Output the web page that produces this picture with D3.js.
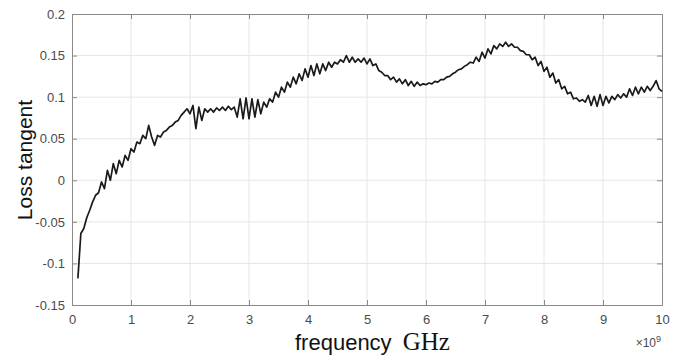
<!DOCTYPE html>
<html>
<head>
<meta charset="utf-8">
<script src="https://cdnjs.cloudflare.com/ajax/libs/d3/7.8.5/d3.min.js"></script>
<style>
  body { margin: 0; background: #fff; }
  .tick text { font-family: "Liberation Sans", Arial, sans-serif; font-size: 13px; fill: #4a4a4a; }
</style>
</head>
<body>
<div class="chart"></div>
<script>
var svgWidth = 680;
var svgHeight = 356;

var margin = { top: 14, right: 18, bottom: 51, left: 72 };

var width = svgWidth - margin.left - margin.right;
var height = svgHeight - margin.top - margin.bottom;

// frequency samples (GHz)
var freqGHz = [
  0.10,0.15,0.20,0.25,0.30,0.35,0.40,0.45,0.50,0.55,
  0.60,0.65,0.70,0.75,0.80,0.85,0.90,0.95,1.00,1.05,
  1.10,1.15,1.20,1.25,1.30,1.35,1.40,1.45,1.50,1.55,
  1.60,1.65,1.70,1.75,1.80,1.85,1.90,1.95,2.00,2.05,
  2.10,2.15,2.20,2.25,2.30,2.35,2.40,2.45,2.50,2.55,
  2.60,2.65,2.70,2.75,2.80,2.85,2.90,2.95,3.00,3.05,
  3.10,3.15,3.20,3.25,3.30,3.35,3.40,3.45,3.50,3.55,
  3.60,3.65,3.70,3.75,3.80,3.85,3.90,3.95,4.00,4.05,
  4.10,4.15,4.20,4.25,4.30,4.35,4.40,4.45,4.50,4.55,
  4.60,4.65,4.70,4.75,4.80,4.85,4.90,4.95,5.00,5.05,
  5.10,5.15,5.20,5.25,5.30,5.35,5.40,5.45,5.50,5.55,
  5.60,5.65,5.70,5.75,5.80,5.85,5.90,5.95,6.00,6.05,
  6.10,6.15,6.20,6.25,6.30,6.35,6.40,6.45,6.50,6.55,
  6.60,6.65,6.70,6.75,6.80,6.85,6.90,6.95,7.00,7.05,
  7.10,7.15,7.20,7.25,7.30,7.35,7.40,7.45,7.50,7.55,
  7.60,7.65,7.70,7.75,7.80,7.85,7.90,7.95,8.00,8.05,
  8.10,8.15,8.20,8.25,8.30,8.35,8.40,8.45,8.50,8.55,
  8.60,8.65,8.70,8.75,8.80,8.85,8.90,8.95,9.00,9.05,
  9.10,9.15,9.20,9.25,9.30,9.35,9.40,9.45,9.50,9.55,
  9.60,9.65,9.70,9.75,9.80,9.85,9.90,9.95,10.00
];

// loss tangent
var lossTangent = [
  -0.118,-0.064,-0.058,-0.045,-0.036,-0.026,-0.018,-0.015,-0.002,-0.010,
  0.012,0.000,0.020,0.008,0.024,0.016,0.030,0.024,0.038,0.034,
  0.046,0.044,0.054,0.050,0.066,0.052,0.042,0.054,0.052,0.058,
  0.060,0.064,0.066,0.070,0.072,0.078,0.082,0.086,0.080,0.090,
  0.062,0.088,0.072,0.086,0.082,0.086,0.082,0.087,0.084,0.088,
  0.084,0.089,0.085,0.088,0.076,0.098,0.074,0.099,0.074,0.098,
  0.076,0.097,0.080,0.094,0.088,0.098,0.094,0.106,0.100,0.112,
  0.106,0.118,0.112,0.124,0.116,0.128,0.120,0.134,0.124,0.138,
  0.126,0.140,0.128,0.140,0.132,0.142,0.136,0.142,0.140,0.145,
  0.142,0.150,0.142,0.148,0.142,0.146,0.142,0.147,0.140,0.146,
  0.138,0.140,0.132,0.130,0.126,0.126,0.121,0.124,0.118,0.122,
  0.116,0.121,0.114,0.119,0.113,0.118,0.114,0.116,0.115,0.117,
  0.116,0.119,0.118,0.121,0.121,0.124,0.125,0.128,0.130,0.133,
  0.134,0.137,0.139,0.142,0.141,0.148,0.143,0.154,0.147,0.158,
  0.152,0.162,0.158,0.164,0.161,0.166,0.161,0.164,0.160,0.160,
  0.156,0.155,0.151,0.151,0.145,0.148,0.138,0.143,0.131,0.136,
  0.124,0.129,0.117,0.121,0.110,0.113,0.104,0.106,0.098,0.099,
  0.095,0.097,0.094,0.102,0.090,0.101,0.089,0.103,0.090,0.101,
  0.093,0.101,0.097,0.103,0.099,0.104,0.100,0.110,0.102,0.112,
  0.104,0.112,0.106,0.113,0.108,0.113,0.120,0.110,0.107
];

var xTicks = [0,1,2,3,4,5,6,7,8,9,10];
var yTicks = [-0.15,-0.1,-0.05,0,0.05,0.1,0.15,0.2];

var data = freqGHz.map((f, i) => ({ f: f, v: lossTangent[i] }));

var svg = d3.select(".chart")
  .append("svg")
  .attr("width", svgWidth)
  .attr("height", svgHeight);

var chartGroup = svg.append("g")
  .attr("transform", `translate(${margin.left}, ${margin.top})`);

var xScale = d3.scaleLinear().domain([0, 10]).range([0, width]);
var yScale = d3.scaleLinear().domain([-0.15, 0.2]).range([height, 0]);

// grid
chartGroup.append("g").selectAll("line")
  .data(xTicks.slice(1, -1))
  .enter().append("line")
  .attr("x1", d => xScale(d)).attr("x2", d => xScale(d))
  .attr("y1", 0).attr("y2", height)
  .attr("stroke", "#e6e6e6").attr("stroke-width", 1);

chartGroup.append("g").selectAll("line")
  .data(yTicks.slice(1, -1))
  .enter().append("line")
  .attr("x1", 0).attr("x2", width)
  .attr("y1", d => yScale(d)).attr("y2", d => yScale(d))
  .attr("stroke", "#e6e6e6").attr("stroke-width", 1);

// axes (MATLAB style box, inward ticks)
var fmtY = d => d === 0 ? "0" : String(d);

chartGroup.append("g")
  .attr("transform", `translate(0,${height})`)
  .call(d3.axisBottom(xScale).tickValues(xTicks).tickSize(-5).tickPadding(10).tickFormat(d3.format("d")));
chartGroup.append("g")
  .call(d3.axisTop(xScale).tickValues(xTicks).tickSize(-5).tickFormat(""));
chartGroup.append("g")
  .call(d3.axisLeft(yScale).tickValues(yTicks).tickSize(-5).tickPadding(7).tickFormat(fmtY));
chartGroup.append("g")
  .attr("transform", `translate(${width},0)`)
  .call(d3.axisRight(yScale).tickValues(yTicks).tickSize(-5).tickFormat(""));

chartGroup.selectAll(".domain, .tick line").attr("stroke", "#8a8a8a");

// curve
var line = d3.line().x(d => xScale(d.f)).y(d => yScale(d.v));

chartGroup.append("path")
  .datum(data)
  .attr("fill", "none")
  .attr("stroke", "#1a1a1a")
  .attr("stroke-width", 1.7)
  .attr("stroke-linejoin", "round")
  .attr("d", line);

// labels
svg.append("text")
  .attr("transform", `translate(32, 160) rotate(-90)`)
  .attr("text-anchor", "middle")
  .attr("font-family", "Liberation Sans, Arial, sans-serif")
  .attr("font-size", 21)
  .attr("fill", "#111")
  .text("Loss tangent");

var xLabel = svg.append("text")
  .attr("x", 295)
  .attr("y", 350)
  .attr("fill", "#111");
xLabel.append("tspan")
  .attr("font-family", "Liberation Sans, Arial, sans-serif")
  .attr("font-size", 22)
  .text("frequency");
xLabel.append("tspan")
  .attr("dx", 11)
  .attr("font-family", "Liberation Serif, Times New Roman, serif")
  .attr("font-size", 25)
  .text("GHz");

var expLabel = svg.append("text")
  .attr("x", 661)
  .attr("y", 347)
  .attr("text-anchor", "end")
  .attr("font-family", "Liberation Sans, Arial, sans-serif")
  .attr("font-size", 12)
  .attr("fill", "#4a4a4a");
expLabel.append("tspan").text("\u00d710");
expLabel.append("tspan").attr("dy", -5).attr("font-size", 9).text("9");
</script>
</body>
</html>
